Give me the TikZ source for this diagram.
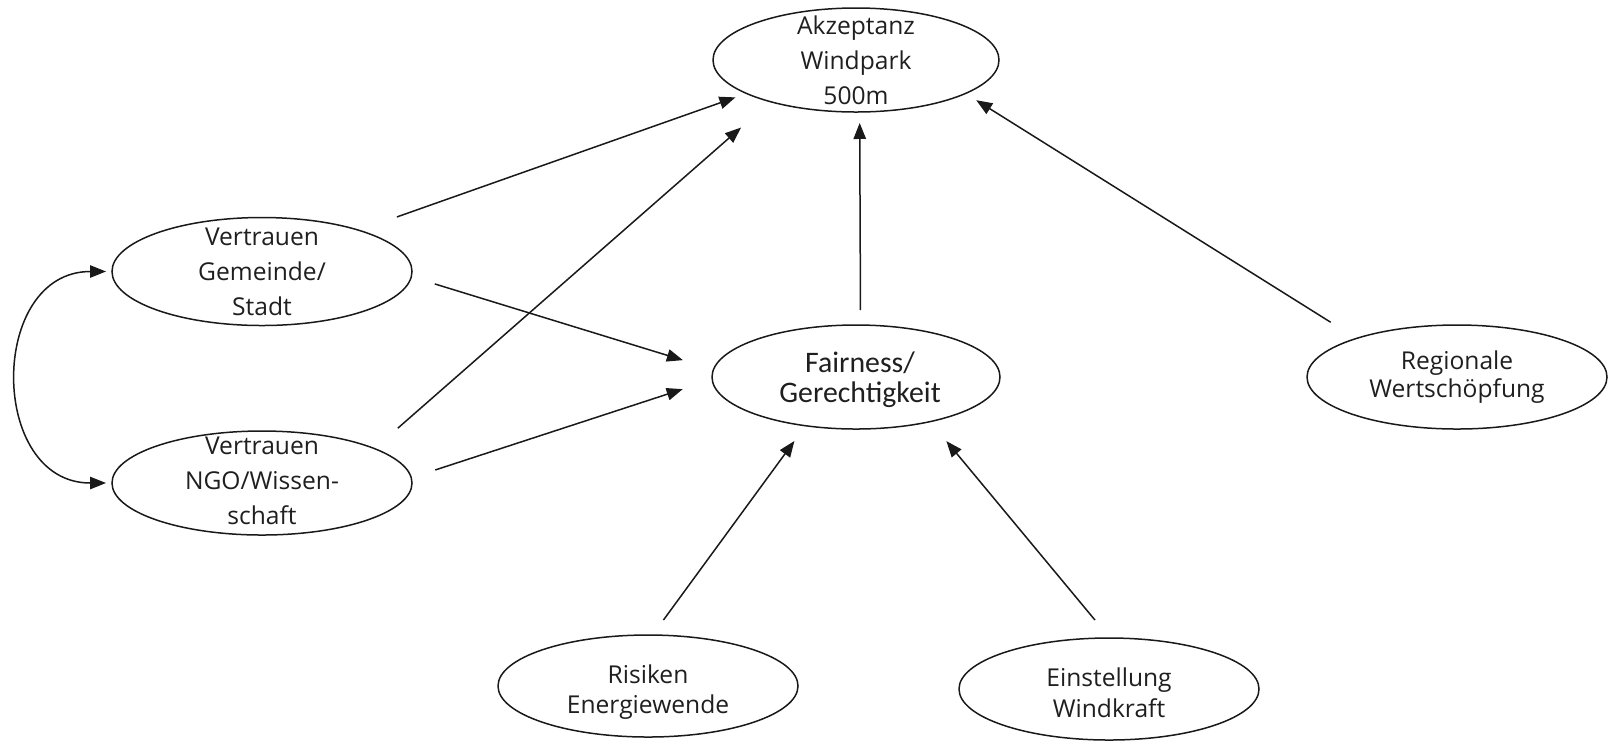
\documentclass[tikz,border=0pt]{standalone}
\usepackage{fontspec}
\setmainfont{Open Sans}
\newfontfamily\fairfont{Carlito}
\usetikzlibrary{shapes.geometric,arrows.meta}
\begin{document}
\begin{tikzpicture}[x=0.5pt,y=-0.5pt,
  ell/.style={draw=black!90, line width=0.75pt, ellipse, inner sep=0pt, outer sep=0pt},
  lab/.style={align=center, inner sep=0pt, text=black!88, font=\fontsize{12.3}{#1}\selectfont},
  fairlab/.style={align=center, inner sep=0pt, text=black!88, font=\fairfont\fontsize{14.9}{15}\selectfont},
  arr/.style={-{Triangle[length=8pt,width=6.2pt]}, line width=0.75pt, draw=black!90},
  biarr/.style={{Triangle[length=8pt,width=6.2pt]}-{Triangle[length=8pt,width=6.2pt]}, line width=0.75pt, draw=black!90}]
\useasboundingbox (0,0) rectangle (1609,741);

\node[ell, minimum width=143pt, minimum height=52pt,
  label={[lab=17.5pt, name=akzT]center:Akzeptanz\\Windpark\\500m}] (akz) at (856,60) {};
\node[ell, minimum width=150pt, minimum height=54pt,
  label={[lab=17.5pt, name=gemT]center:Vertrauen\\Gemeinde/\\Stadt}] (gem) at (262,271.5) {};
\node[ell, minimum width=150pt, minimum height=52pt,
  label={[lab=17.5pt, name=ngoT, yshift=1pt]center:Vertrauen\\NGO/Wissen-\\schaft}] (ngo) at (262,483) {};
\node[ell, minimum width=144pt, minimum height=52pt,
  label={[fairlab, name=fairT, yshift=-1.5pt, xshift=2pt]center:Fairness/\\Gerechtigkeit}] (fair) at (856,377) {};
\node[ell, minimum width=150pt, minimum height=52pt,
  label={[lab=14pt, name=regT]center:Regionale\\Wertschöpfung}] (reg) at (1457,377) {};
\node[ell, minimum width=150pt, minimum height=51pt,
  label={[lab=15pt, name=risT, yshift=-3pt]center:Risiken\\Energiewende}] (ris) at (648,686) {};
\node[ell, minimum width=150pt, minimum height=51pt,
  label={[lab=15.5pt, name=einT, yshift=-2pt]center:Einstellung\\Windkraft}] (ein) at (1109,689) {};

\draw[arr, shorten <=20.1pt, shorten >=5.9pt] (gem.23) -- (akz.197.5);
\draw[arr, shorten <=15.5pt, shorten >=19.6pt] (ngo.17.3) -- (akz.206.9);
\draw[arr, shorten <=7.5pt, shorten >=5.5pt] (fair.85.6) -- (akz.274.4);
\draw[arr, shorten <=15.2pt, shorten >=6.35pt] (reg.159.9) -- (akz.343.25);
\draw[arr, shorten <=12.3pt, shorten >=16pt] (gem.358.4) -- (fair.177);
\draw[arr, shorten <=12.65pt, shorten >=15.5pt] (ngo.2.5) -- (fair.181.9);
\draw[arr, shorten <=9.3pt, shorten >=9.45pt] (ris.85.6) -- (fair.224.4);
\draw[arr, shorten <=11.7pt, shorten >=12.7pt] (ein.89) -- (fair.329.3);
\draw[biarr, shorten <=3pt, shorten >=3pt] (gem.west) .. controls +(-124,0) and +(-124,0) .. (ngo.west);
\end{tikzpicture}
\end{document}
